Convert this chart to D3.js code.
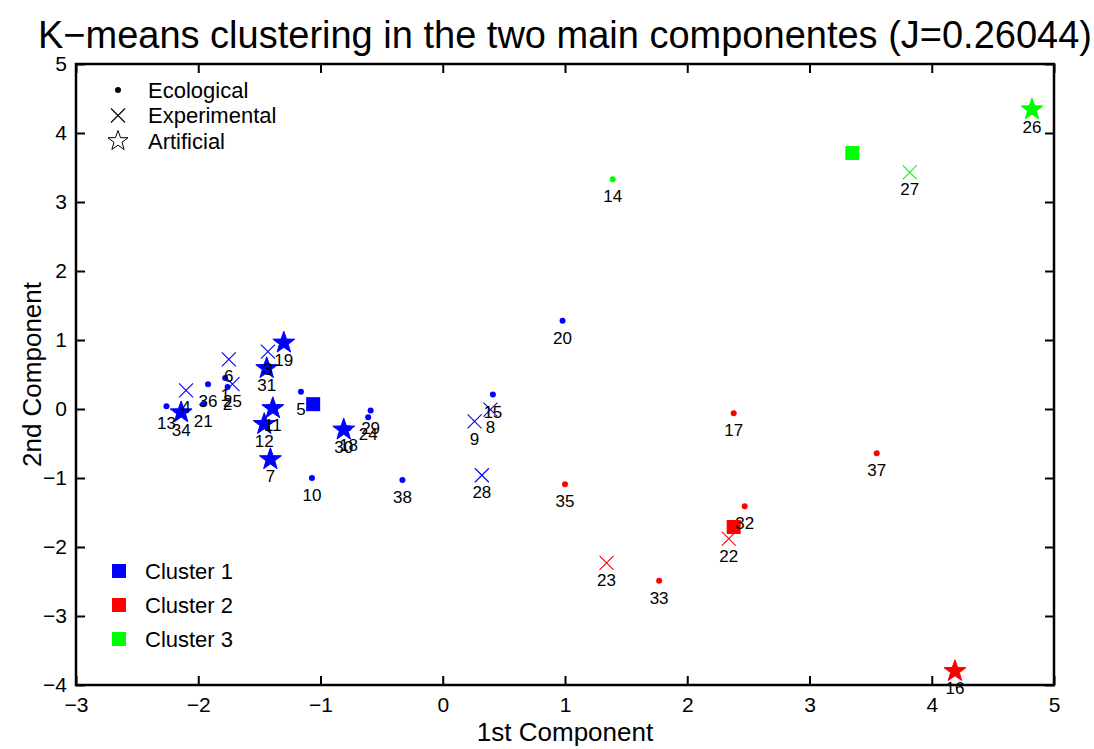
<!DOCTYPE html>
<html>
<head>
<meta charset="utf-8">
<script src="https://cdn.jsdelivr.net/npm/d3@7"></script>
<style>
  html, body { margin: 0; padding: 0; background: #fff; }
  svg { display: block; font-family: "Liberation Sans", Arial, Helvetica, sans-serif; }
</style>
</head>
<body>
<svg id="chart" width="1094" height="749"></svg>
<script>
// Sample scores on the first two principal components
const sampleId   = [1, 2, 3, 4, 5, 6, 7, 8, 9, 10, 11, 12, 13, 14, 15, 16, 17, 18, 19, 20,
                    21, 22, 23, 24, 25, 26, 27, 28, 29, 30, 31, 32, 33, 34, 35, 36, 37, 38];
const pc1        = [-1.78, -1.76, -1.43, -2.10, -1.16, -1.75, -1.41, 0.39, 0.26, -1.07,
                    -1.39, -1.46, -2.26, 1.39, 0.41, 4.19, 2.38, -0.77, -1.30, 0.98,
                    -1.96, 2.34, 1.34, -0.61, -1.72, 4.82, 3.82, 0.32, -0.59, -0.81,
                    -1.44, 2.47, 1.77, -2.14, 1.00, -1.92, 3.55, -0.33];
const pc2        = [0.45, 0.32, 0.83, 0.27, 0.25, 0.72, -0.73, -0.01, -0.18, -1.00,
                    0.01, -0.22, 0.04, 3.33, 0.21, -3.80, -0.06, -0.28, 0.96, 1.28,
                    0.07, -1.88, -2.23, -0.12, 0.36, 4.34, 3.43, -0.96, -0.02, -0.30,
                    0.59, -1.41, -2.49, -0.05, -1.09, 0.36, -0.64, -1.03];
// 0 = Ecological, 1 = Experimental, 2 = Artificial
const sampleType = [0, 0, 1, 1, 0, 1, 2, 1, 1, 0,
                    2, 2, 0, 0, 0, 2, 0, 0, 2, 0,
                    0, 1, 1, 0, 1, 2, 1, 1, 0, 2,
                    2, 0, 0, 2, 0, 0, 0, 0];
const clusterOf  = [1, 1, 1, 1, 1, 1, 1, 1, 1, 1,
                    1, 1, 1, 3, 1, 2, 2, 1, 1, 1,
                    1, 2, 2, 1, 1, 3, 3, 1, 1, 1,
                    1, 2, 2, 1, 2, 1, 2, 1];

// Cluster centroids
const centroidX = [-1.06, 2.38, 3.35];
const centroidY = [0.07, -1.71, 3.71];

const typeNames    = ["Ecological", "Experimental", "Artificial"];
const clusterNames = ["Cluster 1", "Cluster 2", "Cluster 3"];
const clusterColor = ["#0000ff", "#ff0000", "#00ff00"];

const xTicks = [-3, -2, -1, 0, 1, 2, 3, 4, 5];
const yTicks = [-4, -3, -2, -1, 0, 1, 2, 3, 4, 5];
const titleText = "K\u2212means clustering in the two main componentes (J=0.26044)";

const svg = d3.select("#chart");
const plotL = 76, plotR = 1054, plotT = 64, plotB = 685;

const x = d3.scaleLinear().domain([-3, 5]).range([plotL, plotR]);
const y = d3.scaleLinear().domain([-4, 5]).range([plotB, plotT]);

const minusFmt = d => (d < 0 ? "\u2212" + Math.abs(d) : String(d));

// Pentagram path centred on the origin
function starPath(R) {
  const r = R * 0.4;
  const pts = [];
  for (let i = 0; i < 10; i++) {
    const a = -Math.PI / 2 + i * Math.PI / 5;
    const rad = i % 2 === 0 ? R : r;
    pts.push([rad * Math.cos(a), rad * Math.sin(a)]);
  }
  return "M" + pts.map(p => p[0].toFixed(2) + "," + p[1].toFixed(2)).join("L") + "Z";
}

function drawMarker(g, type, color, filled) {
  if (type === 0) {
    g.append("circle").attr("r", 3).attr("fill", color);
  } else if (type === 1) {
    const s = 7;
    g.append("path")
      .attr("d", `M${-s},${-s}L${s},${s}M${-s},${s}L${s},${-s}`)
      .attr("stroke", color).attr("stroke-width", 1.1).attr("fill", "none");
  } else {
    g.append("path")
      .attr("d", starPath(filled ? 11.5 : 10.5))
      .attr("fill", filled ? color : "none")
      .attr("stroke", color).attr("stroke-width", 1);
  }
}

// Axes: inward ticks on all four sides
const axFont = 21;
const gx = svg.append("g").attr("transform", `translate(0,${plotB})`)
  .call(d3.axisBottom(x).tickValues(xTicks).tickFormat(minusFmt).tickSize(-9).tickPadding(12));
const gy = svg.append("g").attr("transform", `translate(${plotL},0)`)
  .call(d3.axisLeft(y).tickValues(yTicks).tickFormat(minusFmt).tickSize(-9).tickPadding(9));
const gxt = svg.append("g").attr("transform", `translate(0,${plotT})`)
  .call(d3.axisTop(x).tickValues(xTicks).tickFormat("").tickSize(-9));
const gyr = svg.append("g").attr("transform", `translate(${plotR},0)`)
  .call(d3.axisRight(y).tickValues(yTicks).tickFormat("").tickSize(-9));
[gx, gy, gxt, gyr].forEach(g => {
  g.select(".domain").remove();
  g.selectAll(".tick line").attr("stroke", "#000").attr("stroke-width", 2);
  g.selectAll("text").attr("fill", "#000").attr("font-size", axFont)
    .attr("font-family", "Liberation Sans, Arial, sans-serif");
});

svg.append("rect")
  .attr("x", plotL).attr("y", plotT)
  .attr("width", plotR - plotL).attr("height", plotB - plotT)
  .attr("fill", "none").attr("stroke", "#000").attr("stroke-width", 2.5);

// Samples
const samples = sampleId.map((id, i) => ({
  id, px: pc1[i], py: pc2[i], type: sampleType[i], cluster: clusterOf[i]
}));
const order = samples.slice().sort((a, b) => a.type - b.type);

const pts = svg.append("g");
order.forEach(s => {
  const g = pts.append("g").attr("transform", `translate(${x(s.px)},${y(s.py)})`);
  drawMarker(g, s.type, clusterColor[s.cluster - 1], true);
});

// Centroids
svg.append("g").selectAll("rect")
  .data(centroidX.map((cx, i) => ({ cx, cy: centroidY[i], k: i })))
  .join("rect")
  .attr("x", d => x(d.cx) - 7).attr("y", d => y(d.cy) - 7)
  .attr("width", 14).attr("height", 14)
  .attr("fill", d => clusterColor[d.k]);

// Sample numbers under each marker
svg.append("g").selectAll("text")
  .data(samples)
  .join("text")
  .attr("x", d => x(d.px))
  .attr("y", d => y(d.py) + 17)
  .attr("dy", "0.36em")
  .attr("text-anchor", "middle")
  .attr("font-size", 17)
  .attr("fill", "#000")
  .text(d => d.id);

// Legend for sample type
const legType = svg.append("g");
typeNames.forEach((name, i) => {
  const yy = 90 + i * 25.5;
  const g = legType.append("g").attr("transform", `translate(118,${yy})`);
  drawMarker(g, i, "#000", false);
  legType.append("text").attr("x", 148).attr("y", yy).attr("dy", "0.36em")
    .attr("font-size", 22).attr("fill", "#000").text(name);
});

// Legend for clusters
const legCl = svg.append("g");
clusterNames.forEach((name, i) => {
  const yy = 571 + i * 34;
  legCl.append("rect").attr("x", 112).attr("y", yy - 7).attr("width", 14).attr("height", 14)
    .attr("fill", clusterColor[i]);
  legCl.append("text").attr("x", 145).attr("y", yy).attr("dy", "0.36em")
    .attr("font-size", 22).attr("fill", "#000").text(name);
});

// Title and axis labels
svg.append("text").attr("x", (plotL + plotR) / 2).attr("y", 48)
  .attr("text-anchor", "middle").attr("font-size", 38).attr("fill", "#000").text(titleText);
svg.append("text").attr("x", (plotL + plotR) / 2).attr("y", 741)
  .attr("text-anchor", "middle").attr("font-size", 26).attr("fill", "#000").text("1st Component");
svg.append("text")
  .attr("transform", `translate(41,${(plotT + plotB) / 2}) rotate(-90)`)
  .attr("text-anchor", "middle").attr("font-size", 26).attr("fill", "#000").text("2nd Component");
</script>
</body>
</html>
